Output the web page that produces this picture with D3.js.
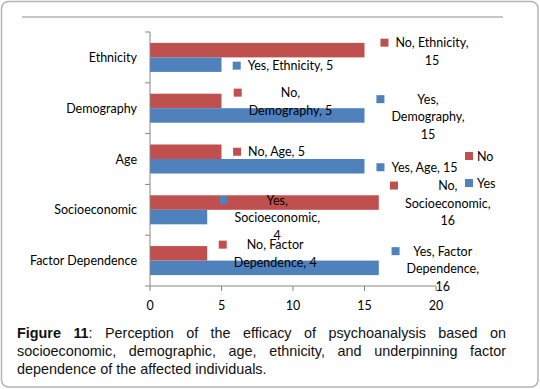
<!DOCTYPE html>
<html><head><meta charset="utf-8">
<script src="https://cdn.jsdelivr.net/npm/d3@7"></script>
<style>body{margin:0;background:#fff;} svg{display:block;}</style>
</head><body>
<script>
// ---- data ----
const categories = ["Ethnicity","Demography","Age","Socioeconomic","Factor Dependence"];
const series = ["No","Yes"];
const noValues = [15,5,5,16,4];
const yesValues = [5,15,15,4,16];
const xTicks = [0,5,10,15,20];
const noLabels = [["No, Ethnicity,","15"],["No,","Demography, 5"],["No, Age, 5"],["No,","Socioeconomic,","16"],["No, Factor","Dependence, 4"]];
const yesLabels = [["Yes, Ethnicity, 5"],["Yes,","Demography,","15"],["Yes, Age, 15"],["Yes,","Socioeconomic,","4"],["Yes, Factor","Dependence,","16"]];
const captionLines = [
  [[["Figure",true]],[["11",true],[":",false]],"Perception","of","the","efficacy","of","psychoanalysis","based","on"],
  ["socioeconomic,","demographic,","age,","ethnicity,","and","underpinning","factor"],
  ["dependence","of","the","affected","individuals."]
];
// label placement (pixel offsets from bar end / bar centre) — layout, not data
const noLabelOffsets = [[67.5,-7.5],[69,-8.3],[55,0],[69,-17],[68,-8.7]];
const yesLabelOffsets = [[69,1],[63.5,-16.3],[60,1],[70,-17],[64,-16.7]];

const W=540,H=389;
const colors={No:"#C0504D",Yes:"#4F81BD"};
const svg=d3.select("body").append("svg").attr("width",W).attr("height",H);

svg.append("rect").attr("x",1.5).attr("y",1.5).attr("width",536.5).attr("height",385.5)
  .attr("rx",7).attr("fill","#fff").attr("stroke","#b4b4b4").attr("stroke-width",1.5);
svg.append("line").attr("x1",22).attr("x2",503).attr("y1",17).attr("y2",17).attr("stroke","#8c8c8c").attr("stroke-width",1);

const x=d3.scaleLinear().domain([0,20]).range([150,436]);
const y=d3.scaleBand().domain(categories).range([32,286]).padding(0);
const ys=d3.scaleBand().domain(series).range([0,y.bandwidth()]).paddingInner(0).paddingOuter(0.75);

const font="Lato, 'Open Sans', sans-serif";
const fs=12.5;
const axisColor="#868686";

// bars
const rows=categories.map((c,i)=>({c,No:noValues[i],Yes:yesValues[i],i}));
series.forEach(s=>{
  svg.append("g").selectAll("rect").data(rows).join("rect")
    .attr("x",x(0)).attr("y",d=>y(d.c)+ys(s))
    .attr("width",d=>x(d[s])-x(0)).attr("height",ys.bandwidth())
    .attr("fill",colors[s]);
});

// axes
const gy=svg.append("g").attr("transform",`translate(${x(0)},0)`);
gy.append("line").attr("x1",0).attr("x2",0).attr("y1",32).attr("y2",286).attr("stroke",axisColor);
const bounds=categories.map(c=>y(c)).concat([286]);
gy.selectAll("line.t").data(bounds).join("line").attr("class","t")
  .attr("x1",-5).attr("x2",0).attr("y1",d=>d).attr("y2",d=>d).attr("stroke",axisColor);
gy.selectAll("text").data(categories).join("text")
  .attr("x",-13).attr("y",c=>y(c)+y.bandwidth()/2).attr("text-anchor","end").attr("dominant-baseline","central")
  .attr("font-family",font).attr("font-size",fs).attr("fill","#000").text(c=>c);

const gx=svg.append("g").attr("transform","translate(0,286)");
gx.append("line").attr("x1",x(0)).attr("x2",x(20)).attr("y1",0).attr("y2",0).attr("stroke",axisColor);
gx.selectAll("line.t").data(xTicks).join("line").attr("class","t")
  .attr("x1",d=>x(d)).attr("x2",d=>x(d)).attr("y1",0).attr("y2",5).attr("stroke",axisColor);
gx.selectAll("text").data(xTicks).join("text")
  .attr("x",d=>x(d)).attr("y",19).attr("text-anchor","middle").attr("dominant-baseline","central")
  .attr("font-family",font).attr("font-size",fs).attr("fill","#000").text(d=>d);

// data labels
const lh=17.5;
function drawLabel(s,i,val,lines,off){
  const ex=x(val), cy=y(categories[i])+ys(s)+ys.bandwidth()/2;
  const cx=ex+off[0], fy=cy+off[1];
  const g=svg.append("g");
  let maxW=0;
  lines.forEach((t,k)=>{
    const te=g.append("text").attr("x",cx).attr("y",fy+k*lh).attr("text-anchor","middle")
      .attr("dominant-baseline","central").attr("font-family",font).attr("font-size",fs).attr("fill","#000").text(t);
    maxW=Math.max(maxW,te.node().getComputedTextLength());
  });
  g.insert("rect",":first-child").attr("x",cx-maxW/2-15).attr("y",fy-4).attr("width",8).attr("height",8).attr("fill",colors[s]);
}
rows.forEach((d,i)=>{
  drawLabel("No",i,noValues[i],noLabels[i],noLabelOffsets[i]);
  drawLabel("Yes",i,yesValues[i],yesLabels[i],yesLabelOffsets[i]);
});

// legend
const lg=svg.append("g");
series.forEach((s,k)=>{
  lg.append("rect").attr("x",465).attr("y",152+k*27).attr("width",8).attr("height",8).attr("fill",colors[s]);
  lg.append("text").attr("x",477).attr("y",156+k*27).attr("dominant-baseline","central")
    .attr("font-family",font).attr("font-size",fs).attr("fill","#000").text(s);
});

// caption (justified)
const capFont="'Liberation Sans', Arial, sans-serif", capSize=14.4;
const L=17,R=506,capY=[333,351,369];
captionLines.forEach((words,li)=>{
  const els=words.map(w=>{
    const segs=typeof w==="string"?[[w,false]]:w;
    const t=svg.append("text").attr("y",capY[li]).attr("dominant-baseline","central")
      .attr("font-family",capFont).attr("font-size",capSize).attr("fill","#111");
    segs.forEach(sg=>t.append("tspan").attr("font-weight",sg[1]?"bold":"normal").text(sg[0]));
    return t;
  });
  const widths=els.map(e=>e.node().getComputedTextLength());
  const total=d3.sum(widths);
  const justify=li<captionLines.length-1;
  const gap=justify?(R-L-total)/(els.length-1):capSize*0.28;
  let cx=L;
  els.forEach((e,k)=>{e.attr("x",cx);cx+=widths[k]+gap;});
});
</script>
</body></html>
